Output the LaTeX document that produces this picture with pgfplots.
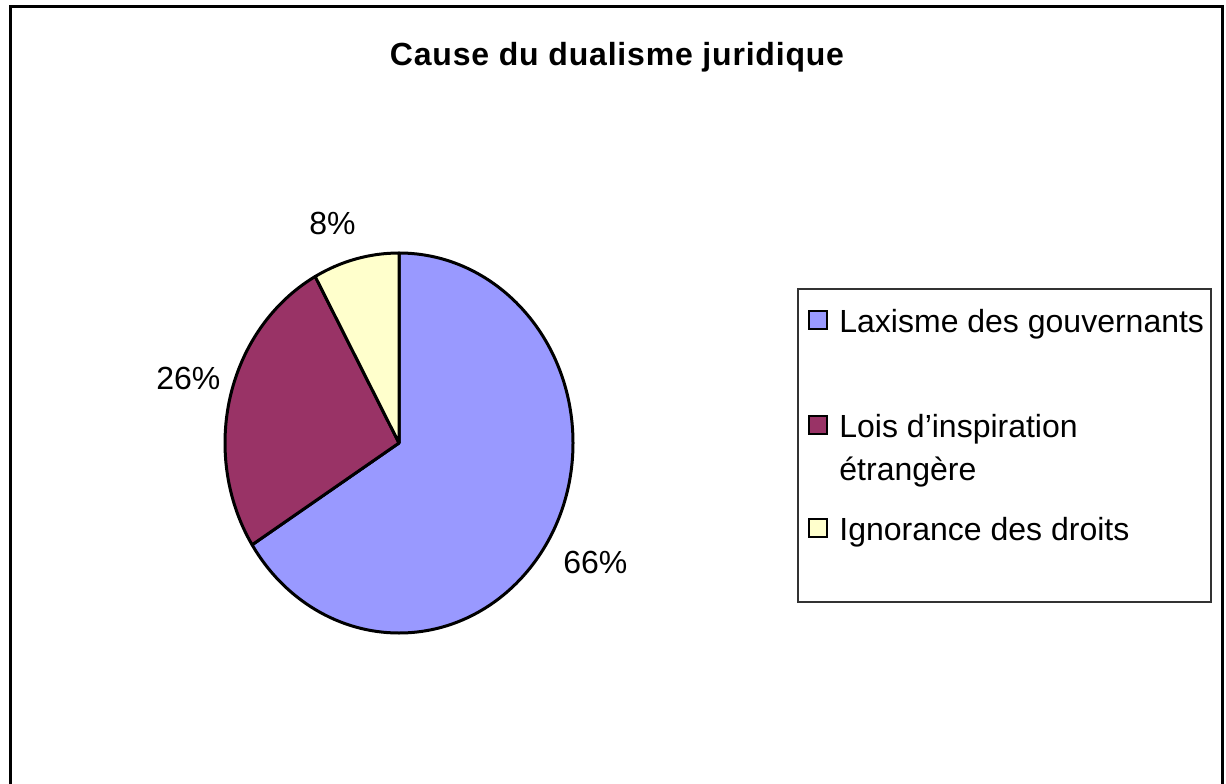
\documentclass[border=0pt]{standalone}
\usepackage{pgfplots}
\pgfplotsset{compat=1.18}
\usepackage{fontspec}
\setmainfont{Liberation Sans}
\definecolor{pieblue}{HTML}{9999FF}
\definecolor{piemaroon}{HTML}{993366}
\definecolor{pieyellow}{HTML}{FFFFCC}
\begin{document}
\begin{tikzpicture}
\begin{axis}[scale only axis, width=613pt, height=391pt,
  xmin=0, xmax=1226, ymin=0, ymax=782, hide axis, clip=false]
\path (axis cs:0,0) rectangle (axis cs:1226,782);
% values (percent): 66, 26, 8 ; clockwise from the top
\pgfmathsetmacro{\aA}{90}
\pgfmathsetmacro{\aB}{90-66*3.6}
\pgfmathsetmacro{\aC}{\aB-26*3.6}
\pgfmathsetmacro{\aD}{\aC-8*3.6}
\filldraw[fill=pieblue, draw=black, line width=1.5pt, line join=round]
  (axis cs:399,339) -- ++(axis direction cs:{174*cos(\aA)},{190*sin(\aA)})
  arc[start angle=\aA, end angle=\aB, x radius=174, y radius=190] -- cycle;
\filldraw[fill=piemaroon, draw=black, line width=1.5pt, line join=round]
  (axis cs:399,339) -- ++(axis direction cs:{174*cos(\aB)},{190*sin(\aB)})
  arc[start angle=\aB, end angle=\aC, x radius=174, y radius=190] -- cycle;
\filldraw[fill=pieyellow, draw=black, line width=1.5pt, line join=round]
  (axis cs:399,339) -- ++(axis direction cs:{174*cos(\aC)},{190*sin(\aC)})
  arc[start angle=\aC, end angle=\aD, x radius=174, y radius=190] -- cycle;
% percentage labels
\node[anchor=base west, inner sep=0, font=\fontsize{16}{19}\selectfont] at (axis cs:309,548) {8\%};
\node[anchor=base west, inner sep=0, font=\fontsize{16}{19}\selectfont] at (axis cs:156,393) {26\%};
\node[anchor=base west, inner sep=0, font=\fontsize{16}{19}\selectfont] at (axis cs:563,209) {66\%};
% title
\node[anchor=base, inner sep=0, font=\fontsize{16}{19}\selectfont\bfseries\addfontfeatures{LetterSpace=2.5}] at (axis cs:617,716) {Cause du dualisme juridique};
% legend
\draw[line width=0.6pt, draw=black!80] (axis cs:798,493) rectangle (axis cs:1211,180);
\filldraw[fill=pieblue, draw=black, line width=1pt] (axis cs:809,453) rectangle (axis cs:827,471);
\filldraw[fill=piemaroon, draw=black, line width=1pt] (axis cs:809,348) rectangle (axis cs:827,366);
\filldraw[fill=pieyellow, draw=black, line width=1pt] (axis cs:809,245) rectangle (axis cs:827,263);
\node[anchor=base west, inner sep=0, font=\fontsize{16}{19}\selectfont] at (axis cs:839,450) {Laxisme des gouvernants};
\node[anchor=base west, inner sep=0, font=\fontsize{16}{19}\selectfont] at (axis cs:839,345) {Lois d’inspiration};
\node[anchor=base west, inner sep=0, font=\fontsize{16}{19}\selectfont] at (axis cs:839,302) {étrangère};
\node[anchor=base west, inner sep=0, font=\fontsize{16}{19}\selectfont] at (axis cs:839,242) {Ignorance des droits};
% outer frame
\draw[line width=1.5pt, line cap=rect] (axis cs:10,0) -- (axis cs:10,775) -- (axis cs:1222,775) -- (axis cs:1222,0);
\end{axis}
\end{tikzpicture}
\end{document}
